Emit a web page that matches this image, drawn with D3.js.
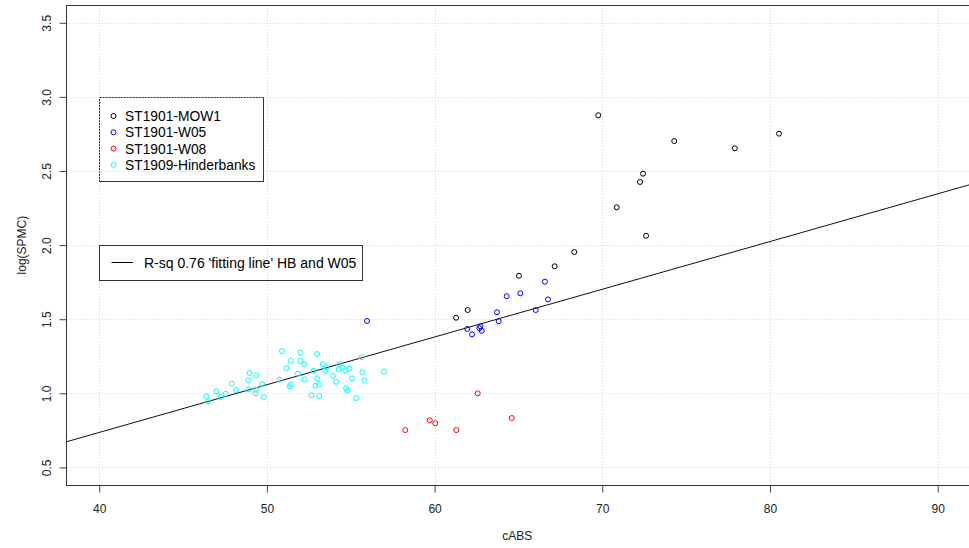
<!DOCTYPE html>
<html><head><meta charset="utf-8">
<script src="https://cdn.jsdelivr.net/npm/d3@7"></script>
<style>body{margin:0;background:#fff}svg{display:block}text{font-family:"Liberation Sans",Arial,sans-serif}</style>
</head><body><svg id="c" width="969" height="548"></svg>
<script>
const xTicks = [40,50,60,70,80,90];
const yTicks = [0.5,1.0,1.5,2.0,2.5,3.0,3.5];
const seriesNames = ["ST1901-MOW1","ST1901-W05","ST1901-W08","ST1909-Hinderbanks"];
const seriesColors = ["#000000","#0000ff","#ff0000","#00ffff"];
const mow1 = [[69.76,2.876],[74.29,2.702],[77.90,2.653],[80.54,2.752],[72.43,2.482],[72.25,2.426],[70.86,2.255],[72.61,2.063],[68.33,1.953],[67.16,1.857],[65.03,1.793],[61.97,1.562],[61.28,1.510]];
const w05 = [[66.58,1.753],[65.11,1.675],[64.30,1.655],[66.76,1.634],[63.72,1.547],[66.03,1.562],[63.82,1.486],[62.73,1.452],[62.67,1.439],[61.95,1.434],[62.81,1.422],[62.23,1.398],[55.97,1.488]];
const w08 = [[58.25,0.752],[59.71,0.818],[60.04,0.798],[61.29,0.752],[62.57,1.000],[64.60,0.833]];
const hinder = [[46.39,0.979],[46.49,0.946],[46.98,1.013],[47.25,0.975],[47.54,0.997],[47.90,1.065],[48.16,1.022],[48.89,1.088],[48.97,1.137],[49.37,1.123],[48.91,1.027],[49.35,1.024],[49.33,1.000],[49.71,1.063],[49.81,0.975],[50.76,1.092],[50.90,1.285],[51.16,1.169],[51.42,1.220],[52.0,1.274],[52.0,1.220],[52.23,1.196],[52.99,1.265],[51.85,1.132],[51.44,1.061],[51.36,1.047],[52.25,1.094],[52.79,1.153],[52.65,0.987],[53.12,0.982],[52.99,1.101],[52.89,1.051],[53.12,1.061],[53.33,1.198],[53.54,1.175],[53.48,1.153],[53.94,1.119],[54.12,1.078],[54.32,1.198],[54.28,1.162],[54.50,1.175],[54.68,1.155],[54.91,1.166],[55.07,1.101],[54.72,1.034],[54.79,1.018],[55.65,1.243],[55.69,1.142],[55.81,1.088],[55.33,0.968],[56.98,1.146]];
const fitIntercept = -0.552, fitSlope = 0.0322;
const legendLineLabel = "R-sq 0.76 'fitting line' HB and W05";

const svg = d3.select("#c");
const L=65.7, R=971.2, T=5, B=485.2;
const x = d3.scaleLinear().domain([38,92]).range([L,R]);
const y = d3.scaleLinear().domain([0.38,3.62]).range([B,T]);

// legend 1 box (drawn before grid so grid dots overlay its top/left)
const lg = svg.append("g");
lg.append("rect").attr("x",99.5).attr("y",97.5).attr("width",164).attr("height",84).attr("fill","none").attr("stroke","#333");

// grid
const g = svg.append("g");
g.selectAll(".gx").data(xTicks).enter().append("line")
 .attr("x1",d=>Math.round(x(d))+0.5).attr("x2",d=>Math.round(x(d))+0.5).attr("y1",T).attr("y2",B)
 .attr("stroke","#d3d3d3").attr("stroke-dasharray","1,2");
g.selectAll(".gy").data(yTicks).enter().append("line")
 .attr("y1",d=>Math.round(y(d))+0.5).attr("y2",d=>Math.round(y(d))+0.5).attr("x1",L).attr("x2",R)
 .attr("stroke","#d3d3d3").attr("stroke-dasharray","1,2");

// axes
const xa = svg.append("g").attr("transform",`translate(0,${Math.round(B)+0.5})`)
 .call(d3.axisBottom(x).tickValues(xTicks).tickSize(7).tickSizeOuter(0).tickFormat(d3.format("d")));
xa.select(".domain").remove();
xa.selectAll("line").attr("stroke","#444");
xa.selectAll("text").attr("font-size",12).attr("fill","#222").attr("dy","1.45em");
const ya = svg.append("g").attr("transform",`translate(${Math.round(L)+0.5},0)`)
 .call(d3.axisLeft(y).tickValues(yTicks).tickSize(7).tickFormat(d3.format(".1f")));
ya.select(".domain").remove();
ya.selectAll("line").attr("stroke","#444");
ya.selectAll(".tick text").each(function(){
  const t=d3.select(this); t.attr("x",null).attr("text-anchor","middle").attr("font-size",12).attr("fill","#222")
   .attr("transform","translate(-20,0) rotate(-90)").attr("dy","0.35em");
});

// box
svg.append("rect").attr("x",Math.round(L)+0.5).attr("y",Math.round(T)+0.5)
 .attr("width",R-L+5).attr("height",Math.round(B)-Math.round(T)).attr("fill","none").attr("stroke","#333");

// axis titles
svg.append("text").attr("x",(L+969)/2).attr("y",540).attr("text-anchor","middle").attr("font-size",12).attr("fill","#222").text("cABS");
svg.append("text").attr("transform",`translate(26,${(T+B)/2}) rotate(-90)`).attr("text-anchor","middle").attr("font-size",12).attr("fill","#222").text("log(SPMC)");

// fit line
svg.append("clipPath").attr("id","pc").append("rect").attr("x",L).attr("y",T).attr("width",R-L).attr("height",B-T);
svg.append("line").attr("clip-path","url(#pc)")
 .attr("x1",x(38)).attr("y1",y(fitIntercept+fitSlope*38)).attr("x2",x(92)).attr("y2",y(fitIntercept+fitSlope*92))
 .attr("stroke","#111").attr("stroke-width",1);

// points
[mow1,w05,w08,hinder].forEach((s,i)=>{
  svg.append("g").selectAll("circle").data(s).enter().append("circle")
   .attr("cx",d=>x(d[0])).attr("cy",d=>y(d[1])).attr("r",2.5)
   .attr("fill","none").attr("stroke",seriesColors[i]).attr("stroke-width",1);
});

// legend 1 entries
seriesNames.forEach((n,i)=>{
  const yy = 116 + i*16.3;
  lg.append("circle").attr("cx",113.5).attr("cy",yy).attr("r",2.5).attr("fill","none").attr("stroke",seriesColors[i]);
  lg.append("text").attr("x",125).attr("y",yy).attr("dy","0.36em").attr("font-size",13.8).attr("fill","#000").text(n);
});
// legend 2
const lg2 = svg.append("g");
lg2.append("rect").attr("x",99.5).attr("y",245.5).attr("width",263).attr("height",35).attr("fill","none").attr("stroke","#333");
lg2.append("line").attr("x1",111.5).attr("x2",133).attr("y1",262.5).attr("y2",262.5).attr("stroke","#000");
lg2.append("text").attr("x",144).attr("y",263).attr("dy","0.36em").attr("font-size",14).attr("fill","#000").text(legendLineLabel);
</script></body></html>
